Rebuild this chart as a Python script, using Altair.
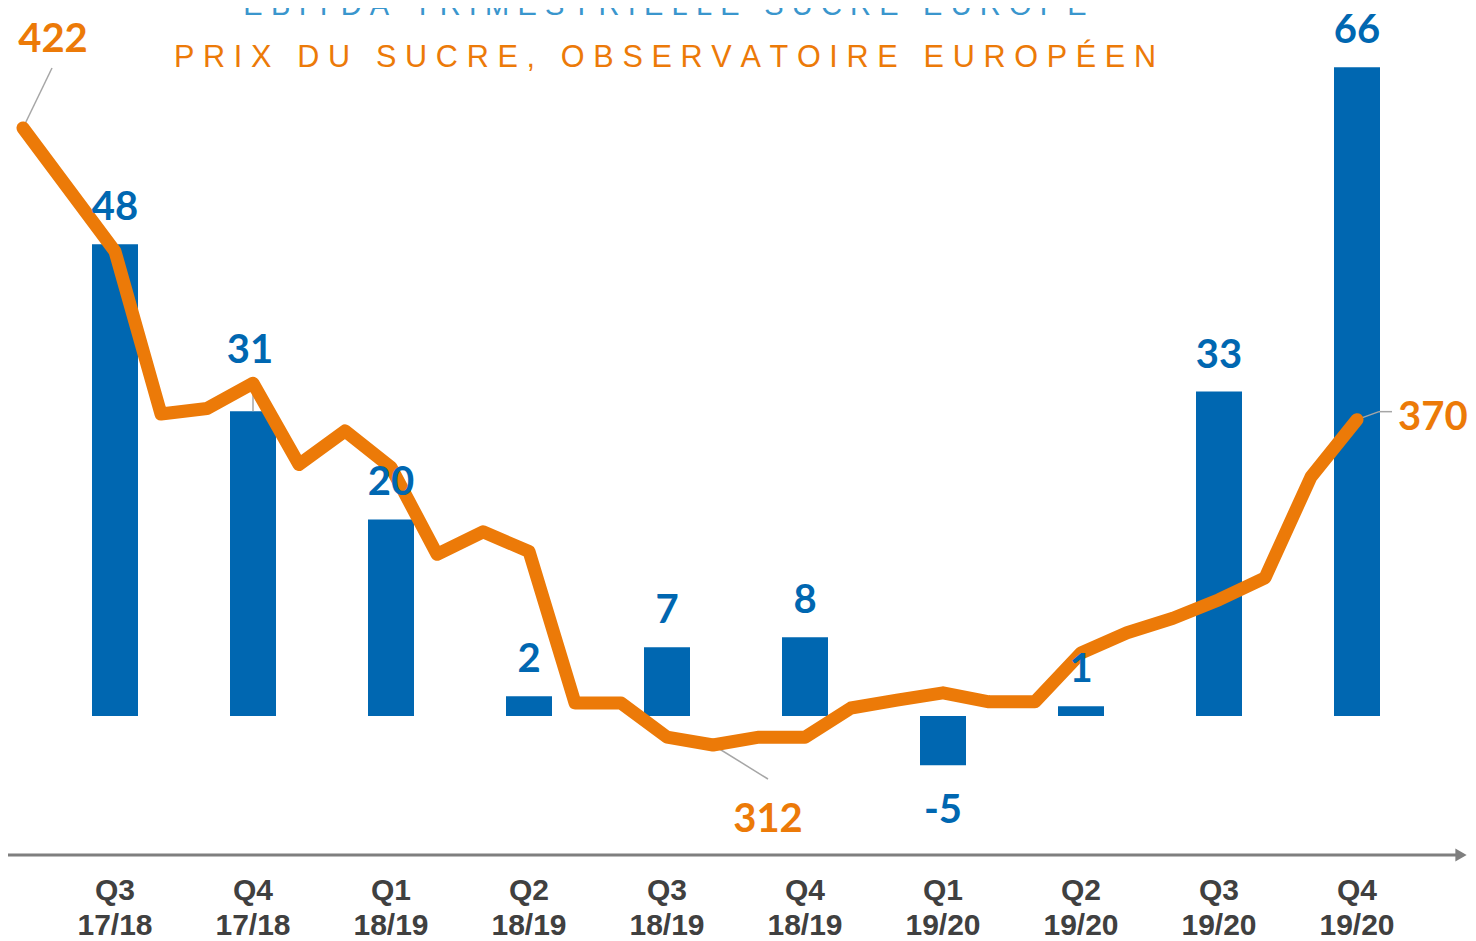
import altair as alt
import pandas as pd

# ---------------- data ----------------
quarters = ["Q3\n17/18", "Q4\n17/18", "Q1\n18/19", "Q2\n18/19", "Q3\n18/19",
            "Q4\n18/19", "Q1\n19/20", "Q2\n19/20", "Q3\n19/20", "Q4\n19/20"]
quarter_mid_month = ["2017-10", "2018-01", "2018-04", "2018-07", "2018-10",
                     "2019-01", "2019-04", "2019-07", "2019-10", "2020-01"]
ebitda = [48, 31, 20, 2, 7, 8, -5, 1, 33, 66]

price_months = ["2017-08", "2017-10", "2017-11", "2017-12",
                "2018-01", "2018-02", "2018-03", "2018-04", "2018-05", "2018-06",
                "2018-07", "2018-08", "2018-09", "2018-10", "2018-11", "2018-12",
                "2019-01", "2019-02", "2019-03", "2019-04", "2019-05", "2019-06",
                "2019-07", "2019-08", "2019-09", "2019-10", "2019-11", "2019-12",
                "2020-01"]
price = [422, 400, 371, 372,
         376.5, 362, 368, 361.5, 346, 350,
         346.5, 319.5, 319.5, 313.4, 312, 313.4,
         313.4, 318.6, 320, 321.3, 319.7, 319.7,
         328.4, 332, 334.6, 337.9, 341.8, 359.8,
         370]

title_ebitda = "EBITDA TRIMESTRIELLE SUCRE EUROPE"
title_price = "PRIX DU SUCRE, OBSERVATOIRE EUROPÉEN"

# ---------------- style ----------------
BLUE = "#0067B1"
ORANGE = "#EC7A08"
TITLE_BLUE = "#3A96CD"
GREY_TXT = "#404040"
GREY_AXIS = "#7F7F7F"
GREY_LEAD = "#A6A6A6"
W, H = 1460, 933
LABEL_FONT = "Lato"
TITLE_FONT = "Liberation Sans, Arial, sans-serif"


def spaced(s, sep):
    return sep.join(list(s))


MEXPR = ("(toNumber(substring(datum.month,0,4)) - 2017) * 12 + "
         "toNumber(substring(datum.month,5,7)) - 10")

xsc = alt.Scale(domain=[-107 / 46, (W - 107) / 46], nice=False, zero=False)
ysc_b = alt.Scale(domain=[(708 - H) / 9.83, 708 / 9.83], nice=False, zero=False)
ysc_l = alt.Scale(domain=[422 - (H - 120) / 5.609, 422 + 120 / 5.609], nice=False, zero=False)

bars_df = pd.DataFrame({"quarter": quarters, "month": quarter_mid_month, "ebitda": ebitda})
line_df = pd.DataFrame({"month": price_months, "price": price})

base_b = alt.Chart(bars_df).transform_calculate(m=MEXPR).transform_calculate(
    x0="datum.m - 0.5", x1="datum.m + 0.5", label="toString(datum.ebitda)")
base_l = alt.Chart(line_df).transform_calculate(m=MEXPR).transform_calculate(
    label="toString(datum.price)")

X = lambda f: alt.X(f, scale=xsc, axis=None)
YB = lambda f: alt.Y(f, scale=ysc_b, axis=None)
YL = lambda f: alt.Y(f, scale=ysc_l, axis=None)

bars = base_b.mark_bar(color=BLUE).encode(
    x=X("x0:Q"), x2="x1:Q", y=YB("ebitda:Q"), y2=alt.datum(0))

txt_kw = dict(font=LABEL_FONT, fontWeight="bold", fontSize=40, color=BLUE, align="center")
lab_pos = base_b.transform_filter("datum.ebitda >= 0 && datum.month != '2018-01'").mark_text(
    baseline="alphabetic", dy=-24, **txt_kw).encode(x=X("m:Q"), y=YB("ebitda:Q"), text="label:N")
lab_31 = base_b.transform_filter("datum.month == '2018-01'").mark_text(
    baseline="alphabetic", dy=-48, dx=-3, **txt_kw).encode(x=X("m:Q"), y=YB("ebitda:Q"), text="label:N")
lead_31 = base_b.transform_filter("datum.month == '2018-01'").mark_rule(
    color=GREY_LEAD, strokeWidth=1.5, y2Offset=-27).encode(x=X("m:Q"), y=YB("ebitda:Q"), y2=alt.Y2("ebitda:Q"))
lab_neg = base_b.transform_filter("datum.ebitda < 0").mark_text(
    baseline="top", dy=26, **txt_kw).encode(x=X("m:Q"), y=YB("ebitda:Q"), text="label:N")

line = base_l.mark_line(color=ORANGE, strokeWidth=13, strokeCap="round", strokeJoin="round").encode(
    x=X("m:Q"), y=YL("price:Q"), order="m:Q")

first = base_l.transform_joinaggregate(mn="min(m)").transform_filter("datum.m == datum.mn")
lowest = base_l.transform_joinaggregate(pmin="min(price)").transform_filter("datum.price == datum.pmin")
last = base_l.transform_joinaggregate(mx="max(m)").transform_filter("datum.m == datum.mx")

lead_kw = dict(color=GREY_LEAD, strokeWidth=1.5)
lead_first = first.mark_rule(x2Offset=29, y2Offset=-60, **lead_kw).encode(
    x=X("m:Q"), x2="m:Q", y=YL("price:Q"), y2="price:Q")
lead_low = lowest.mark_rule(x2Offset=55, y2Offset=34, **lead_kw).encode(
    x=X("m:Q"), x2="m:Q", y=YL("price:Q"), y2="price:Q")
lead_last1 = last.mark_rule(x2Offset=22, y2Offset=-8, **lead_kw).encode(
    x=X("m:Q"), x2="m:Q", y=YL("price:Q"), y2="price:Q")
lead_last2 = last.mark_rule(xOffset=22, yOffset=-8, x2Offset=35, y2Offset=-8, **lead_kw).encode(
    x=X("m:Q"), x2="m:Q", y=YL("price:Q"), y2="price:Q")

otxt = dict(font=LABEL_FONT, fontWeight="bold", fontSize=40, color=ORANGE, baseline="alphabetic")
lab_first = first.mark_text(align="center", dx=30, dy=-76, **otxt).encode(
    x=X("m:Q"), y=YL("price:Q"), text="label:N")
lab_low = lowest.mark_text(align="center", dx=55, dy=87, **otxt).encode(
    x=X("m:Q"), y=YL("price:Q"), text="label:N")
lab_last = last.mark_text(align="left", dx=41, dy=10, **otxt).encode(
    x=X("m:Q"), y=YL("price:Q"), text="label:N")

one = pd.DataFrame({"a": [0]})
axis_line = alt.Chart(one).mark_rule(color=GREY_AXIS, strokeWidth=3).encode(
    x=alt.value(-3), x2=alt.value(1452), y=alt.value(847))
arrow = alt.Chart(one).mark_point(shape="triangle-right", filled=True, size=170,
                                  color=GREY_AXIS, opacity=1).encode(
    x=alt.value(1453), y=alt.value(847))
axis_labels = base_b.mark_text(font="Liberation Sans", fontWeight="bold", fontSize=30,
                               color=GREY_TXT, baseline="top", align="center",
                               lineBreak="\n", lineHeight=35).encode(
    x=X("m:Q"), y=alt.value(868), text="quarter:N")

SEP = "\u2009\u200A"
titles_df = pd.DataFrame({"t": [spaced(title_ebitda, SEP), spaced(title_price, SEP)],
                          "which": ["e", "p"]})
t_e = alt.Chart(titles_df).transform_filter("datum.which == 'e'").mark_text(
    font=TITLE_FONT, fontSize=29, color=TITLE_BLUE, align="center",
    baseline="alphabetic").encode(x=alt.value(657), y=alt.value(7), text="t:N")
t_p = alt.Chart(titles_df).transform_filter("datum.which == 'p'").mark_text(
    font=TITLE_FONT, fontSize=30.6, color=ORANGE, align="center",
    baseline="alphabetic").encode(x=alt.value(657), y=alt.value(59), text="t:N")

chart = alt.layer(
    bars, lead_31, lead_first, lead_low, lead_last1, lead_last2, line,
    lab_pos, lab_31, lab_neg, lab_first, lab_low, lab_last,
    axis_line, arrow, axis_labels, t_e, t_p,
).resolve_scale(y="independent").properties(
    width=W, height=H, padding=0, autosize=alt.AutoSizeParams(type="none"),
    background="white",
).configure_view(stroke=None)

chart.save("out.html", embed_options={"renderer": "svg", "actions": False})
